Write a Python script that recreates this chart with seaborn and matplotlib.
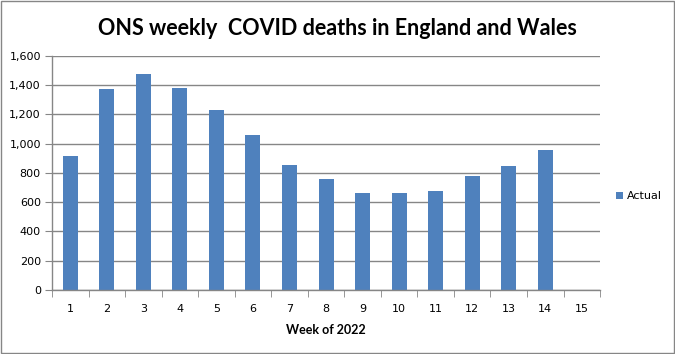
import numpy as np
import pandas as pd
import matplotlib
matplotlib.use('Agg')
import matplotlib.pyplot as plt
import seaborn as sns
from matplotlib.ticker import FuncFormatter, FixedLocator

# data
weeks = [str(w) for w in range(1, 16)]
deaths = [916, 1374, 1477, 1381, 1231, 1060, 855, 759, 662, 662, 676, 780, 848, 958, np.nan]

df = pd.DataFrame({'Week': weeks, 'Actual': deaths})

sns.set_style('white')
plt.rcParams['font.family'] = ['DejaVu Sans']
plt.rcParams['text.color'] = 'black'
plt.rcParams['xtick.color'] = 'black'
plt.rcParams['ytick.color'] = 'black'
plt.rcParams['axes.labelcolor'] = 'black'

fig = plt.figure(figsize=(6.75, 3.54), dpi=100)
ax = fig.add_axes([0.077, 0.181, 0.812, 0.661])

sns.barplot(x='Week', y='Actual', data=df, order=weeks, color='#4F81BD',
            saturation=1, width=0.41, linewidth=0, ax=ax, label='Actual')

ax.set_xlim(-0.5, 14.5)
ax.set_ylim(0, 1600)
ax.set_yticks(range(0, 1601, 200))
ax.yaxis.set_major_formatter(FuncFormatter(lambda v, p: f'{int(v):,}'))
ax.grid(axis='y', color='#868686', linewidth=1)
ax.set_axisbelow(True)

# x ticks between categories
ax.xaxis.set_minor_locator(FixedLocator(np.arange(-0.5, 15, 1)))
ax.tick_params(axis='x', which='major', length=0, labelsize=8, pad=10)
ax.tick_params(axis='x', which='minor', length=5, color='#868686', direction='out', bottom=True)
ax.tick_params(axis='y', length=5, color='#868686', direction='out', left=True, labelsize=8, pad=3)

for s in ['top', 'right']:
    ax.spines[s].set_visible(False)
for s in ['left', 'bottom']:
    ax.spines[s].set_color('#868686')
    ax.spines[s].set_linewidth(1)

ax.set_xlabel('Week of 2022', fontsize=9, fontweight='bold', labelpad=7,
              family=['Lato', 'DejaVu Sans'])
ax.set_ylabel('')

fig.suptitle('ONS weekly  COVID deaths in England and Wales', x=0.50, y=0.95,
             fontsize=15.5, fontweight='bold', family=['Lato', 'DejaVu Sans'])

ax.legend(loc='center left', bbox_to_anchor=(1.0, 0.40), frameon=False, fontsize=8,
          handlelength=0.7, handleheight=0.7, handletextpad=0.3, borderaxespad=1.0)

# outer chart border
fig.patches.append(plt.Rectangle((0.002, 0.003), 0.996, 0.994, transform=fig.transFigure,
                                 fill=False, edgecolor='#868686', linewidth=1))

fig.savefig('out.png', dpi=100)
